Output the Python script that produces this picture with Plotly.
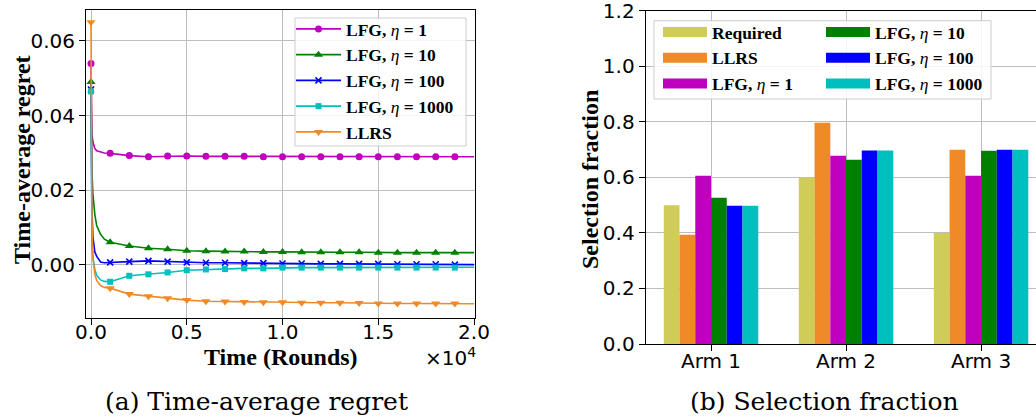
import plotly.graph_objects as go

# ---------------- data ----------------
t_line = [0, 25, 50, 100, 200, 300, 500, 700,
          1000, 2000, 3000, 4000, 5000, 6000, 7000, 8000, 9000, 10000,
          11000, 12000, 13000, 14000, 15000, 16000, 17000, 18000, 19000, 20000]

reg_eta1 = [0.054, 0.038, 0.035, 0.0330, 0.0312, 0.0306, 0.0302, 0.0300,
            0.0299, 0.0293, 0.0290, 0.0292, 0.0292, 0.0291, 0.0291, 0.0291, 0.0290, 0.0290,
            0.0290, 0.0290, 0.0290, 0.0290, 0.0290, 0.0290, 0.0290, 0.0290, 0.0290, 0.0290]
reg_eta10 = [0.049, 0.033, 0.025, 0.019, 0.0135, 0.0105, 0.0082, 0.0069,
             0.0061, 0.0051, 0.0045, 0.0042, 0.0038, 0.0037, 0.0036, 0.0036, 0.0035, 0.0035,
             0.0034, 0.0034, 0.0034, 0.0034, 0.0033, 0.0033, 0.0033, 0.0033, 0.0033, 0.0033]
reg_eta100 = [0.047, 0.025, 0.015, 0.0075, 0.0035, 0.0023, 0.0008, 0.0006,
              0.0007, 0.0009, 0.0011, 0.0009, 0.0007, 0.0006, 0.0006, 0.0005, 0.0005, 0.0004,
              0.0004, 0.0003, 0.0003, 0.0003, 0.0003, 0.0002, 0.0002, 0.0002, 0.0001, 0.0001]
reg_eta1000 = [0.0465, 0.020, 0.0055, 0.002, -0.0012, -0.0028, -0.0040, -0.0044,
               -0.0045, -0.0029, -0.0025, -0.0020, -0.0014, -0.0012, -0.0011, -0.0009, -0.0009, -0.0007,
               -0.0007, -0.0007, -0.0007, -0.0007, -0.0007, -0.0007, -0.0007, -0.0007, -0.0007, -0.0006]
reg_llrs = [0.065, 0.030, 0.012, 0.002, -0.0025, -0.0042, -0.0055, -0.0060,
            -0.0062, -0.0078, -0.0084, -0.0089, -0.0094, -0.0097, -0.0098, -0.0099, -0.0100, -0.0100,
            -0.0101, -0.0101, -0.0101, -0.0102, -0.0103, -0.0103, -0.0103, -0.0103, -0.0103, -0.0104]

arms = ["Arm 1", "Arm 2", "Arm 3"]
frac_required = [0.50, 0.60, 0.40]
frac_llrs = [0.393, 0.797, 0.699]
frac_eta1 = [0.606, 0.678, 0.606]
frac_eta10 = [0.527, 0.663, 0.696]
frac_eta100 = [0.498, 0.697, 0.699]
frac_eta1000 = [0.498, 0.697, 0.699]

x_tickvals = [0, 5000, 10000, 15000, 20000]
x_ticktext = ["0.0", "0.5", "1.0", "1.5", "2.0"]
y_tickvals = [0.0, 0.02, 0.04, 0.06]
y_ticktext = ["0.00", "0.02", "0.04", "0.06"]
y2_tickvals = [0.0, 0.2, 0.4, 0.6, 0.8, 1.0, 1.2]
y2_ticktext = ["0.0", "0.2", "0.4", "0.6", "0.8", "1.0", "1.2"]

# ---------------- styling ----------------
W, H = 1036, 417
SERIF = "Liberation Serif"
SANS = "DejaVu Sans"
CAPFONT = "DejaVu Serif"
TICKSIZE = 20
GRID = "#bdbdbd"
LEGSIZE = 17.5

def eta_label(n):
    return "<b>LFG, </b><i>η</i><b> = %s</b>" % n

fig = go.Figure()

line_series = [
    (eta_label(1), reg_eta1, "#bf00bf", "circle", 7),
    (eta_label(10), reg_eta10, "#008000", "triangle-up", 8),
    (eta_label(100), reg_eta100, "#0000ff", "x-thin", 6),
    (eta_label(1000), reg_eta1000, "#00bfbf", "square", 6),
    ("<b>LLRS</b>", reg_llrs, "#ef8a27", "triangle-down", 8),
]

mark_idx = [i for i, t in enumerate(t_line) if t % 1000 == 0 and t < 20000]

for name, vals, col, sym, ms in line_series:
    mline = dict(width=1.6, color=col) if sym == "x-thin" else dict(width=0)
    marker = dict(symbol=sym, size=ms, color=col, line=mline)
    fig.add_trace(go.Scatter(x=t_line, y=vals, mode="lines",
                             line=dict(color=col, width=1.6),
                             showlegend=False, hoverinfo="skip",
                             xaxis="x", yaxis="y"))
    fig.add_trace(go.Scatter(x=[t_line[i] for i in mark_idx],
                             y=[vals[i] for i in mark_idx],
                             mode="markers", marker=marker,
                             showlegend=False, xaxis="x", yaxis="y"))
    fig.add_trace(go.Scatter(x=[None], y=[None], mode="lines+markers",
                             line=dict(color=col, width=1.6), marker=marker,
                             name=name, legend="legend", xaxis="x", yaxis="y"))

bar_series = [
    ("<b>Required</b>", frac_required, "#cfcd58", "legend2"),
    ("<b>LLRS</b>", frac_llrs, "#ee8a28", "legend2"),
    (eta_label(1), frac_eta1, "#bf00bf", "legend2"),
    (eta_label(10), frac_eta10, "#008000", "legend3"),
    (eta_label(100), frac_eta100, "#0000ff", "legend3"),
    (eta_label(1000), frac_eta1000, "#00bfbf", "legend3"),
]
for name, vals, col, lg in bar_series:
    fig.add_trace(go.Bar(x=arms, y=vals, marker=dict(color=col, line=dict(width=0)),
                         showlegend=False, xaxis="x2", yaxis="y2"))
for name, vals, col, lg in bar_series:
    fig.add_trace(go.Scatter(x=[None], y=[None], mode="lines",
                             line=dict(color=col, width=10),
                             name=name, legend=lg, xaxis="x2", yaxis="y2"))

axis_common = dict(showline=True, linecolor="black", linewidth=1.1,
                   ticks="outside", ticklen=6, tickwidth=1.1, tickcolor="black",
                   showgrid=True, gridcolor=GRID, gridwidth=1, zeroline=False,
                   automargin=False, ticklabeloverflow="allow",
                   tickfont=dict(family=SANS, size=TICKSIZE, color="black"))

def px_x(p):
    return p / W

def px_y(p):
    return 1 - p / H

def ann(text, x, y, size, family=SERIF, angle=0):
    return dict(text=text, textangle=angle, x=px_x(x), y=px_y(y),
                xref="paper", yref="paper", showarrow=False,
                xanchor="center", yanchor="middle",
                font=dict(family=family, size=size, color="black"))

legend_box = dict(bgcolor="rgba(0,0,0,0)", borderwidth=0,
                  font=dict(family=SERIF, size=LEGSIZE, color="black"),
                  xanchor="left", yanchor="top", tracegroupgap=0)

fig.update_layout(
    width=W, height=H, autosize=False,
    margin=dict(l=0, r=0, t=0, b=0, pad=0),
    paper_bgcolor="white", plot_bgcolor="white",
    barmode="group", bargap=0.3, bargroupgap=0,
    xaxis=dict(domain=[px_x(86), px_x(475)], range=[-261, 20052],
               tickmode="array", tickvals=x_tickvals, ticktext=x_ticktext,
               mirror=True, anchor="y", ticklabelstandoff=-10, **axis_common),
    yaxis=dict(domain=[px_y(318), px_y(10)], range=[-0.0142, 0.0683],
               tickmode="array", tickvals=y_tickvals, ticktext=y_ticktext,
               mirror=True, anchor="x", **axis_common),
    xaxis2=dict(domain=[px_x(645.7), 1.0], range=[-0.4837, 2.407], type="category",
                mirror=True, anchor="y2", ticklabelstandoff=-7, **axis_common),
    yaxis2=dict(domain=[px_y(344), px_y(10.7)], range=[0, 1.2],
                tickmode="array", tickvals=y2_tickvals, ticktext=y2_ticktext,
                mirror=False, anchor="x2", **axis_common),
    legend=dict(x=px_x(291), y=px_y(11), itemwidth=45, **legend_box),
    legend2=dict(x=px_x(658), y=px_y(14), itemwidth=44, **legend_box),
    legend3=dict(x=px_x(821), y=px_y(14), itemwidth=44, **legend_box),
    shapes=[
        dict(type="rect", xref="paper", yref="paper",
             x0=px_x(295), x1=px_x(466), y0=px_y(146), y1=px_y(18),
             fillcolor="rgba(255,255,255,0.85)", line=dict(color="#cccccc", width=1),
             layer="above"),
        dict(type="rect", xref="paper", yref="paper",
             x0=px_x(654), x1=px_x(991), y0=px_y(99), y1=px_y(20.7),
             fillcolor="rgba(255,255,255,0.85)", line=dict(color="#cccccc", width=1),
             layer="above"),
    ],
    annotations=[
        ann("<b>Time-average regret</b>", 22, 160, 24, angle=-90),
        ann("<b>Time (Rounds)</b>", 281, 357, 24),
        ann("×10<sup>4</sup>", 450, 357, TICKSIZE, family=SANS),
        ann("<b>Selection fraction</b>", 590, 180, 24, angle=-90),
        ann("(a) Time-average regret", 256, 401, 25, family=CAPFONT),
        ann("(b) Selection fraction", 824, 401, 25, family=CAPFONT),
    ],
)

fig.write_html("out.html")
